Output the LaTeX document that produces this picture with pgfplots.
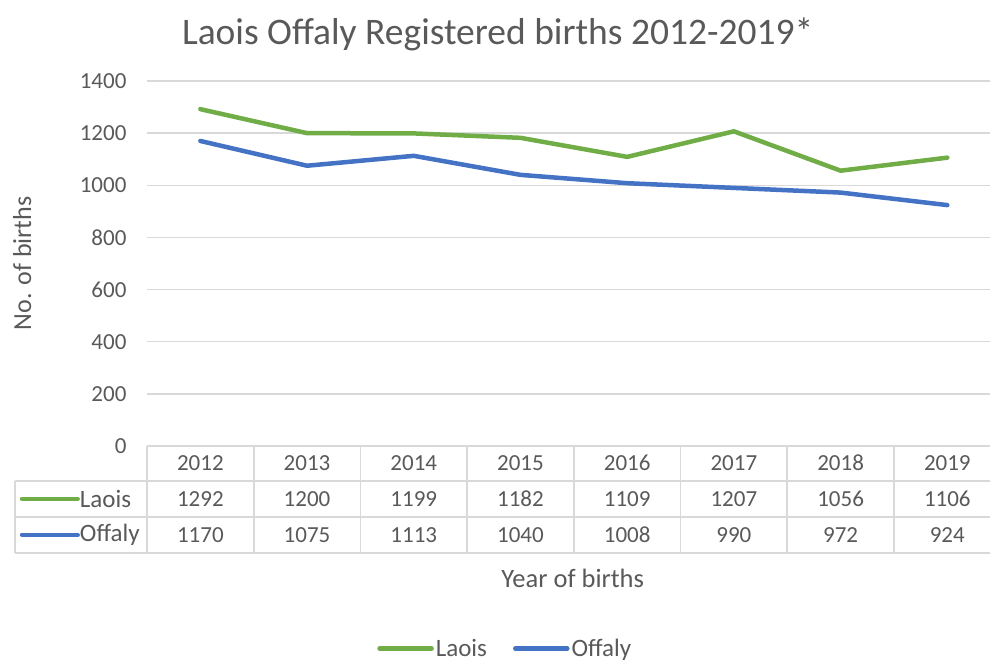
\documentclass[border=0pt]{standalone}
\usepackage{pgfplots}
\pgfplotsset{compat=1.18}
\usepackage{fontspec}
\setmainfont{Carlito}
\definecolor{txt}{HTML}{595959}
\definecolor{gridc}{HTML}{D9D9D9}
\definecolor{laois}{HTML}{70AD47}
\definecolor{offaly}{HTML}{4472C4}
\begin{document}
\begin{tikzpicture}
\path[use as bounding box] (-147pt,-216pt) rectangle (843pt,446pt);
\begin{axis}[
  at={(0pt,0pt)}, anchor=south west,
  scale only axis, width=843pt, height=365pt,
  xmin=-0.5, xmax=7.4, ymin=0, ymax=1400,
  clip=false,
  xtick=\empty,
  ytick={0,200,...,1400},
  ymajorgrids, major grid style={gridc, line width=1.4pt},
  axis line style={draw=none},
  tick style={draw=none},
  /pgf/number format/assume math mode=true,
  /pgf/number format/1000 sep={},
  yticklabel style={font=\fontsize{23}{27}\selectfont, text=txt, xshift=-17pt},
  title={Laois Offaly Registered births 2012-2019*},
  title style={at={(0.416,1.112)}, anchor=center, font=\fontsize{37.5}{42}\selectfont, text=txt},
  ylabel={No. of births},
  ylabel style={at={(-0.148,0.5)}, anchor=center, font=\fontsize{26}{30}\selectfont, text=txt},
  xlabel={Year of births},
  xlabel style={at={(0.505,-0.362)}, anchor=center, font=\fontsize{26.5}{30}\selectfont, text=txt},
  legend style={at={(0.425,-0.555)}, anchor=center, legend columns=2, draw=none, fill=none,
    font=\fontsize{25}{29}\selectfont, text=txt,
    /tikz/every even column/.append style={column sep=24pt}},
  legend image code/.code={\draw[#1, line width=4.5pt, line cap=round] (0pt,0pt) -- (52pt,0pt);},
  legend cell align=left,
]
\addplot[laois, line width=4.5pt, line cap=round, line join=round] coordinates {
 (0,1292) (1,1200) (2,1199) (3,1182) (4,1109) (5,1207) (6,1056) (7,1106)};
\addlegendentry{Laois}
\addplot[offaly, line width=4.5pt, line cap=round, line join=round] coordinates {
 (0,1170) (1,1075) (2,1113) (3,1040) (4,1008) (5,990) (6,972) (7,924)};
\addlegendentry{Offaly}
% data table grid
\draw[gridc, line width=1.6pt] (axis cs:-1.737,-134) -- (axis cs:7.4,-134);
\draw[gridc, line width=1.6pt] (axis cs:-1.737,-272) -- (axis cs:7.4,-272);
\draw[gridc, line width=1.6pt] (axis cs:-1.737,-410) -- (axis cs:7.4,-410);
\draw[gridc, line width=1.6pt] (axis cs:-1.737,-134) -- (axis cs:-1.737,-410);
\pgfplotsinvokeforeach{-0.5,0.5,1.5,2.5,3.5,4.5,5.5,6.5}{
  \draw[gridc, line width=1.6pt] (axis cs:#1,0) -- (axis cs:#1,-410);
}
% row keys
\draw[laois, line width=4.5pt, line cap=round] (axis cs:-1.671,-203) -- (axis cs:-1.15,-203);
\draw[offaly, line width=4.5pt, line cap=round] (axis cs:-1.671,-341) -- (axis cs:-1.15,-341);
\node[anchor=west, inner sep=0pt, text=txt, font=\fontsize{25}{29}\selectfont] at (axis cs:-1.13,-203) {Laois};
\node[anchor=west, inner sep=0pt, text=txt, font=\fontsize{25}{29}\selectfont] at (axis cs:-1.13,-341) {Offaly};
% table text
\addplot[draw=none, mark=none, forget plot, point meta=explicit symbolic,
  nodes near coords, nodes near coords align=center,
  every node near coord/.append style={text=txt, font=\fontsize{23}{27}\selectfont, anchor=center}]
  coordinates {
 (0,-65)[2012] (1,-65)[2013] (2,-65)[2014] (3,-65)[2015] (4,-65)[2016] (5,-65)[2017] (6,-65)[2018] (7,-65)[2019]
 (0,-203)[1292] (1,-203)[1200] (2,-203)[1199] (3,-203)[1182] (4,-203)[1109] (5,-203)[1207] (6,-203)[1056] (7,-203)[1106]
 (0,-341)[1170] (1,-341)[1075] (2,-341)[1113] (3,-341)[1040] (4,-341)[1008] (5,-341)[990] (6,-341)[972] (7,-341)[924]
};
\end{axis}
\end{tikzpicture}
\end{document}
